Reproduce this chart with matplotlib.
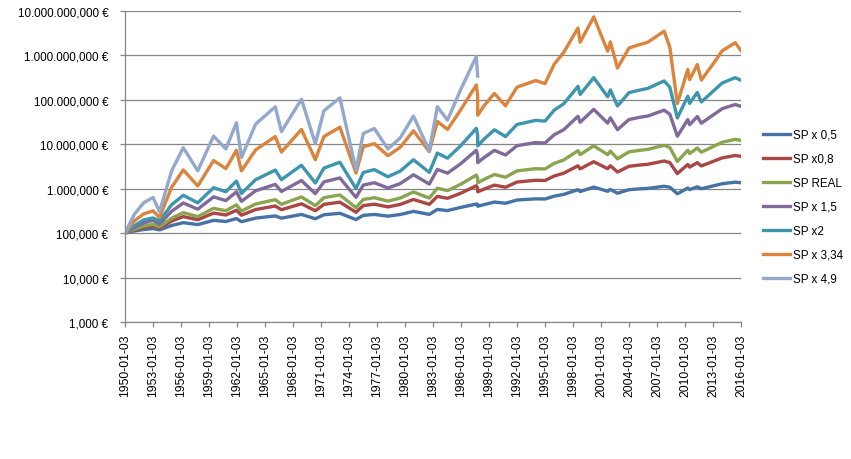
import matplotlib
matplotlib.use("Agg")
import matplotlib.pyplot as plt
import matplotlib.dates as mdates
from matplotlib.ticker import FixedLocator, NullLocator
import pandas as pd

dates = ["1950-01-03", "1951-01-02", "1952-01-02", "1953-01-05", "1953-09-14",
         "1955-01-03", "1956-04-02", "1957-10-21", "1959-07-01", "1960-10-24",
         "1961-12-12", "1962-06-26", "1964-01-02", "1966-02-09", "1966-10-07",
         "1968-11-29", "1970-05-26", "1971-04-28", "1973-01-11", "1974-10-03",
         "1975-07-15", "1976-09-21", "1978-03-06", "1979-07-02", "1980-11-28",
         "1982-08-12", "1983-06-22", "1984-07-24", "1986-01-02", "1987-08-25",
         "1987-10-16", "1987-10-20", "1988-07-01", "1989-08-01", "1990-10-11",
         "1992-01-02", "1994-01-03", "1995-01-03", "1996-01-02", "1997-01-02",
         "1998-07-17", "1998-10-08", "2000-03-24", "2001-09-21", "2002-01-04",
         "2002-10-09", "2004-01-02", "2005-01-03", "2006-01-03", "2007-10-09",
         "2008-05-19", "2009-03-09", "2010-04-23", "2010-07-02", "2011-04-29",
         "2011-10-03", "2013-01-02", "2014-01-02", "2015-05-21", "2016-01-04"]

sp_x05 = [1.00e5, 1.11e5, 1.20e5, 1.26e5, 1.18e5, 1.48e5, 1.71e5, 1.55e5, 1.93e5, 1.82e5,
          2.12e5, 1.80e5, 2.17e5, 2.43e5, 2.16e5, 2.62e5, 2.10e5, 2.58e5, 2.78e5, 2.01e5,
          2.50e5, 2.62e5, 2.40e5, 2.61e5, 3.07e5, 2.63e5, 3.40e5, 3.20e5, 3.79e5, 4.48e5,
          4.44e5, 4.01e5, 4.37e5, 4.98e5, 4.68e5, 5.53e5, 5.88e5, 5.83e5, 6.76e5, 7.40e5,
          9.46e5, 8.57e5, 1.081e6, 8.69e5, 9.57e5, 7.87e5, 9.44e5, 9.82e5, 1.009e6, 1.127e6,
          1.074e6, 7.64e5, 1.030e6, 9.48e5, 1.096e6, 9.91e5, 1.146e6, 1.288e6, 1.393e6, 1.355e6]

sp_x08 = [1.00e5, 1.172e5, 1.334e5, 1.442e5, 1.300e5, 1.862e5, 2.344e5, 1.991e5, 2.812e5, 2.547e5,
          3.258e5, 2.518e5, 3.381e5, 4.055e5, 3.350e5, 4.550e5, 3.177e5, 4.416e5, 4.955e5, 2.938e5,
          4.140e5, 4.457e5, 3.873e5, 4.406e5, 5.689e5, 4.426e5, 6.683e5, 6.039e5, 7.907e5, 1.159e6,
          1.007e6, 8.472e5, 9.795e5, 1.197e6, 1.074e6, 1.403e6, 1.538e6, 1.521e6, 1.923e6, 2.213e6,
          3.258e6, 2.773e6, 4.018e6, 2.799e6, 3.266e6, 2.360e6, 3.170e6, 3.357e6, 3.516e6, 4.169e6,
          3.846e6, 2.173e6, 3.491e6, 3.041e6, 3.828e6, 3.236e6, 4.074e6, 4.909e6, 5.546e6, 5.297e6]

sp_real = [1.00e5, 1.219e5, 1.429e5, 1.570e5, 1.380e5, 2.158e5, 2.877e5, 2.339e5, 3.597e5, 3.177e5,
           4.315e5, 3.119e5, 4.498e5, 5.636e5, 4.436e5, 6.486e5, 4.140e5, 6.237e5, 7.195e5, 3.724e5,
           5.702e5, 6.237e5, 5.224e5, 6.124e5, 8.395e5, 6.124e5, 1.021e6, 8.995e5, 1.259e6, 2.018e6,
           1.690e6, 1.349e6, 1.618e6, 2.070e6, 1.799e6, 2.500e6, 2.799e6, 2.761e6, 3.698e6, 4.395e6,
           7.112e6, 5.794e6, 9.162e6, 5.794e6, 6.998e6, 4.667e6, 6.699e6, 7.194e6, 7.603e6, 9.397e6,
           8.395e6, 4.064e6, 7.311e6, 6.138e6, 8.185e6, 6.592e6, 8.770e6, 1.104e7, 1.279e7, 1.208e7]

sp_x15 = [1.00e5, 1.337e5, 1.687e5, 1.936e5, 1.589e5, 3.090e5, 4.743e5, 3.444e5, 6.501e5, 5.370e5,
          8.472e5, 5.164e5, 8.913e5, 1.242e6, 8.630e5, 1.517e6, 7.674e5, 1.416e6, 1.738e6, 6.353e5,
          1.197e6, 1.355e6, 1.030e6, 1.297e6, 2.046e6, 1.265e6, 2.698e6, 2.223e6, 3.664e6, 7.278e6,
          5.559e6, 3.828e6, 5.023e6, 7.211e6, 5.689e6, 9.204e6, 1.086e7, 1.059e7, 1.633e7, 2.099e7,
          4.227e7, 3.097e7, 6.053e7, 2.965e7, 3.899e7, 2.109e7, 3.573e7, 3.954e7, 4.276e7, 5.794e7,
          4.699e7, 1.507e7, 3.565e7, 2.723e7, 4.169e7, 2.951e7, 4.487e7, 6.281e7, 7.762e7, 7.063e7]

sp_x2 = [1.00e5, 1.459e5, 1.972e5, 2.188e5, 1.862e5, 4.345e5, 7.079e5, 4.786e5, 1.047e6, 8.511e5,
         1.479e6, 7.762e5, 1.585e6, 2.600e6, 1.592e6, 3.342e6, 1.337e6, 2.884e6, 3.917e6, 9.977e5,
         2.301e6, 2.673e6, 1.845e6, 2.477e6, 4.446e6, 2.312e6, 6.281e6, 4.819e6, 9.333e6, 2.265e7,
         1.570e7, 9.120e6, 1.312e7, 2.099e7, 1.479e7, 2.761e7, 3.420e7, 3.289e7, 5.834e7, 8.054e7,
         1.991e8, 1.306e8, 3.119e8, 1.164e8, 1.660e8, 7.211e7, 1.435e8, 1.618e8, 1.786e8, 2.636e8,
         1.897e8, 3.873e7, 1.197e8, 8.241e7, 1.449e8, 8.872e7, 1.535e8, 2.377e8, 3.119e8, 2.716e8]

sp_x334 = [1.00e5, 1.862e5, 2.692e5, 3.162e5, 2.239e5, 1.072e6, 2.630e6, 1.148e6, 4.266e6, 2.818e6,
           7.244e6, 2.512e6, 7.413e6, 1.479e7, 6.607e6, 2.138e7, 4.467e6, 1.479e7, 2.399e7, 2.239e6,
           8.710e6, 1.023e7, 5.495e6, 8.511e6, 1.995e7, 6.761e6, 3.236e7, 2.138e7, 6.026e7, 2.138e8,
           1.230e8, 4.467e7, 7.413e7, 1.380e8, 7.244e7, 1.905e8, 2.692e8, 2.291e8, 6.310e8, 1.148e9,
           4.074e9, 1.950e9, 7.244e9, 1.230e9, 1.995e9, 5.129e8, 1.445e9, 1.698e9, 1.950e9, 3.467e9,
           1.514e9, 8.128e7, 4.786e8, 2.818e8, 6.166e8, 2.754e8, 6.310e8, 1.259e9, 1.905e9, 1.259e9]

sp_x49 = [1.00e5, 2.630e5, 4.786e5, 6.310e5, 3.020e5, 2.512e6, 8.318e6, 2.512e6, 1.514e7, 7.762e6,
          3.020e7, 5.012e6, 2.818e7, 6.918e7, 1.905e7, 1.023e8, 1.023e7, 5.623e7, 1.096e8, 2.630e6,
          1.738e7, 2.239e7, 7.762e6, 1.380e7, 4.266e7, 7.079e6, 6.918e7, 3.467e7, 1.738e8, 9.333e8,
          3.388e8]

series_names = ["SP x 0,5", "SP x0,8", "SP REAL", "SP x 1,5", "SP x2", "SP x 3,34", "SP x 4,9"]
series_values = [sp_x05, sp_x08, sp_real, sp_x15, sp_x2, sp_x334, sp_x49]
colors = ["#4572A7", "#AA4643", "#89A54E", "#80699B", "#3D96AE", "#DB843D", "#92A8CD"]

y_ticks = [1e3, 1e4, 1e5, 1e6, 1e7, 1e8, 1e9, 1e10]
y_labels = ["1,000 €", "10,000 €", "100,000 €", "1.000,000 €", "10.000,000 €",
            "100.000,000 €", "1.000.000,000 €", "10.000.000,000 €"]
x_tick_labels = ["%d-01-03" % y for y in range(1950, 2017, 3)]

plt.rcParams["font.family"] = ["Liberation Sans", "DejaVu Sans"]

fig = plt.figure(figsize=(8.51, 4.60), dpi=100)
ax = fig.add_axes([125 / 851, 1 - 323 / 460, (741 - 125) / 851, (323 - 11.7) / 460])

dt = pd.to_datetime(dates)
for name, vals, c in zip(series_names, series_values, colors):
    ax.plot(dt[:len(vals)], vals, color=c, lw=2.4, label=name, solid_joinstyle="round")

ax.set_yscale("log")
ax.set_ylim(1e3, 1e10)
ax.yaxis.set_major_locator(FixedLocator(y_ticks))
ax.yaxis.set_minor_locator(NullLocator())
ax.set_yticklabels(y_labels)

xt = pd.to_datetime(x_tick_labels)
ax.set_xlim(pd.Timestamp("1950-01-03"), pd.Timestamp("2016-01-03"))
ax.xaxis.set_major_locator(FixedLocator(mdates.date2num(xt)))
ax.xaxis.set_minor_locator(NullLocator())
ax.set_xticklabels(x_tick_labels, rotation=90)

ax.grid(axis="y", color="#868686", lw=0.9)
ax.set_axisbelow(True)
for s in ["top", "right"]:
    ax.spines[s].set_visible(False)
for s in ["left", "bottom"]:
    ax.spines[s].set_color("#868686")
    ax.spines[s].set_linewidth(0.9)
ax.tick_params(axis="both", colors="#868686", labelcolor="black", length=3.5, width=0.9)
ax.tick_params(axis="y", pad=8.5, labelsize=8.4)
ax.tick_params(axis="x", pad=5, labelsize=8.8)

leg = ax.legend(loc="upper left", bbox_to_anchor=(758 / 851, 1 - 125 / 460), bbox_transform=fig.transFigure,
                frameon=False, fontsize=8.4, handlelength=2.3, handletextpad=0.3, labelspacing=1.03,
                borderaxespad=0)
for line in leg.get_lines():
    line.set_linewidth(2.4)

fig.savefig("out.png", dpi=100)
